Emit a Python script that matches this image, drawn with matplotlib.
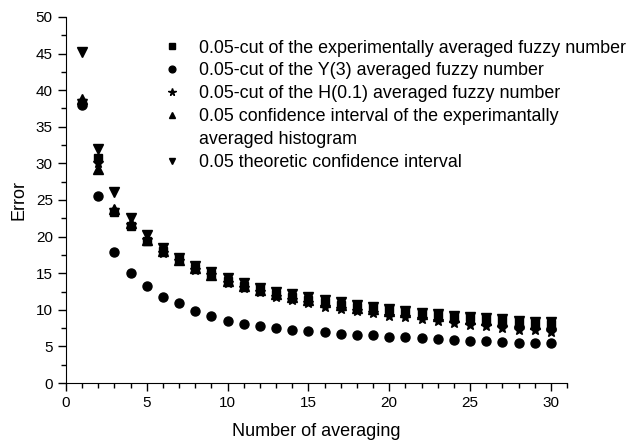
import numpy as np
import matplotlib
matplotlib.use('Agg')
import matplotlib.pyplot as plt
from matplotlib.ticker import MultipleLocator
from matplotlib.lines import Line2D

plt.rcParams['font.family'] = ['Liberation Sans', 'DejaVu Sans']

n_avg = np.arange(1, 31)

exp_fuzzy = [38.3, 30.8, 23.4, 21.5, 19.4, 18.0, 16.9, 15.7, 14.9, 14.0,
             13.3, 12.8, 12.2, 11.8, 11.4, 11.1, 10.7, 10.4, 10.2, 10.1,
             9.9, 9.5, 9.4, 9.1, 9.0, 8.8, 8.6, 8.4, 8.2, 8.0]
y3_fuzzy = [38.0, 25.5, 17.9, 15.05, 13.3, 11.7, 10.9, 9.9, 9.2, 8.5,
            8.1, 7.8, 7.5, 7.3, 7.07, 6.9, 6.75, 6.6, 6.5, 6.3,
            6.25, 6.1, 6.0, 5.9, 5.8, 5.7, 5.6, 5.5, 5.45, 5.4]
h01_fuzzy = [38.5, 30.0, 23.6, 21.6, 19.6, 17.8, 16.7, 15.5, 14.7, 13.7,
             13.0, 12.4, 11.8, 11.3, 10.9, 10.4, 10.1, 9.8, 9.5, 9.2,
             9.0, 8.7, 8.5, 8.25, 7.9, 7.75, 7.5, 7.3, 7.2, 7.0]
hist_ci = [38.8, 29.3, 23.8, 21.8, 19.5, 18.0, 16.8, 15.7, 14.8, 14.0,
           13.2, 12.7, 12.2, 11.7, 11.3, 11.0, 10.6, 10.3, 10.1, 9.9,
           9.7, 9.4, 9.2, 9.0, 8.8, 8.6, 8.5, 8.3, 8.1, 8.0]
theo_ci = [45.2, 32.0, 26.1, 22.6, 20.2, 18.5, 17.1, 16.0, 15.1, 14.3,
           13.6, 13.0, 12.5, 12.1, 11.7, 11.3, 11.0, 10.7, 10.4, 10.1,
           9.9, 9.6, 9.4, 9.2, 9.0, 8.9, 8.7, 8.5, 8.4, 8.3]

labels = ['0.05-cut of the experimentally averaged fuzzy number',
          '0.05-cut of the Y(3) averaged fuzzy number',
          '0.05-cut of the H(0.1) averaged fuzzy number',
          '0.05 confidence interval of the experimantally',
          '0.05 theoretic confidence interval']

fig = plt.figure(figsize=(6.31, 4.41), dpi=100)
ax = fig.add_axes([0.1046, 0.1315, 0.794, 0.83])

h_sq, = ax.plot(n_avg, exp_fuzzy, 's', color='black', ms=5.5, label=labels[0])
h_ci, = ax.plot(n_avg, y3_fuzzy, 'o', color='black', ms=6.5, label=labels[1])
h_st, = ax.plot(n_avg, h01_fuzzy, '*', color='black', ms=7.5, label=labels[2])
h_tr, = ax.plot(n_avg, hist_ci, '^', color='black', ms=6.5, label=labels[3])
h_it, = ax.plot(n_avg, theo_ci, 'v', color='black', ms=6.5, label=labels[4])

blank = Line2D([], [], linestyle='none', marker=None)
ax.legend([h_sq, h_ci, h_st, h_tr, blank, h_it],
          labels[:4] + ['averaged histogram', labels[4]],
          loc='upper left', bbox_to_anchor=(0.18, 0.958), frameon=False,
          fontsize=12.9, handlelength=1.0, handletextpad=1.0, labelspacing=0.33,
          borderaxespad=0, markerscale=0.75)

ax.set_xlim(0, 31)
ax.set_ylim(0, 50)
ax.xaxis.set_major_locator(MultipleLocator(5))
ax.xaxis.set_minor_locator(MultipleLocator(1))
ax.yaxis.set_major_locator(MultipleLocator(5))
ax.yaxis.set_minor_locator(MultipleLocator(2.5))
ax.tick_params(which='major', direction='out', length=6, width=1, labelsize=11)
ax.tick_params(which='minor', direction='out', length=3.5, width=1)
ax.spines['top'].set_visible(False)
ax.spines['right'].set_visible(False)
ax.set_xlabel('Number of averaging', fontsize=13, labelpad=9)
ax.set_ylabel('Error', fontsize=13, labelpad=6)

fig.savefig('out.png', dpi=100)
